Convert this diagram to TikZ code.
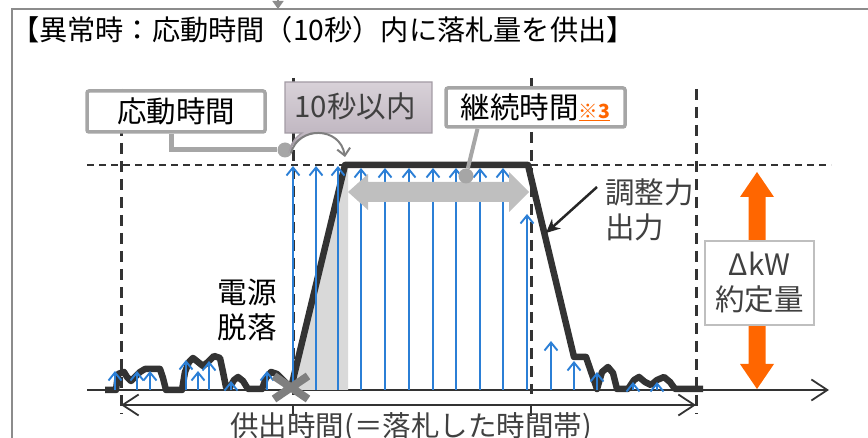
\documentclass[tikz,border=0pt]{standalone}
\usepackage{fontspec}
\setmainfont{Noto Sans CJK JP}
\usetikzlibrary{arrows.meta}
\definecolor{dk}{HTML}{333333}
\definecolor{bl}{HTML}{2B7FD6}
\definecolor{org}{HTML}{FF6600}
\definecolor{gbord}{HTML}{A6A6A6}
\definecolor{lgray}{HTML}{BFBFBF}
\definecolor{tri}{HTML}{D9D9D9}
\definecolor{txtg}{HTML}{404040}
\definecolor{framec}{HTML}{8C8C8C}
\definecolor{xmark}{HTML}{7F7F7F}
\definecolor{caltop}{HTML}{D8D1D8}
\definecolor{calbot}{HTML}{BAB0BB}
\definecolor{calbord}{HTML}{A39BA4}
\tikzset{
  vdash/.style={draw=dk, line width=3pt, dash pattern=on 11pt off 7pt},
  hdash/.style={draw=dk, line width=1.4pt, dash pattern=on 7pt off 5pt},
  barrow/.style={draw=bl, line width=1.9pt, -{Straight Barb[length=8pt,width=13pt]}},
  outline/.style={draw=dk, line width=6.5pt, line join=round},
  gbox/.style={draw=gbord, line width=3.5pt, fill=white, rounded corners=2pt, inner sep=0pt},
  conn/.style={draw=gbord, line width=5pt},
  gdot/.style={circle, fill=gbord, inner sep=0pt, minimum size=15pt},
  axisline/.style={draw=dk, line width=1.8pt},
  bigtip/.style={-{Straight Barb[length=16pt,width=21pt]}},
  lbl/.style={font=\fontsize{29.5}{35}\selectfont, inner sep=0pt},
}
\begin{document}
\begin{tikzpicture}[x=1pt,y=-1pt]
\useasboundingbox (0,0) rectangle (868,438);
% frame
\draw[framec, line width=2.5pt] (12,440) -- (12,9) -- (870,9);
\coordinate (topin) at (278,-4);
\coordinate (topend) at (278,9);
\draw[framec, line width=1.5pt, -{Triangle[length=8pt,width=11pt]}] (topin) -- (topend);
\node[lbl, font=\fontsize{28.2}{34}\selectfont, anchor=west] (title) at (11,30) {【異常時：応動時間（10秒）内に落札量を供出】};
% dashed lines
\draw[hdash] (87,165) -- (831,165);
\draw[vdash] (121,89) -- (121,414);
\draw[vdash] (293,78) -- (293,401);
\draw[vdash] (531,78) -- (531,394);
\draw[vdash] (696,89) -- (696,414);
\draw[dk, line width=1.5pt] (293,405) -- (293,416);
\draw[dk, line width=1.5pt] (531,405) -- (531,416);
% axis and supply-time arrow
\coordinate (ax0) at (87,390);
\coordinate (ax1) at (829,390);
\draw[axisline, bigtip] (ax0) -- (ax1);
\coordinate (sp0) at (121,405);
\coordinate (sp1) at (696,405);
\draw[axisline, {Straight Barb[length=16pt,width=21pt]}-{Straight Barb[length=16pt,width=21pt]}] (sp0) -- (sp1);
% light gray ramp area
\fill[tri] (293,390) -- (345,165) -- (348,165) -- (348,390) -- cycle;
% output line
\draw[outline] (105,390) -- (116,390) -- (118,374) -- (124,372) -- (127,377) -- (131,381) -- (135,377) -- (140,372) -- (145,369) -- (160,369) -- (163,378) -- (166,390) -- (182,390) -- (185,372) -- (189,362) -- (193,358) -- (198,362) -- (203,366) -- (208,362) -- (214,356) -- (220,358) -- (223,372) -- (226,387) -- (230,387) -- (234,380) -- (238,377) -- (243,381) -- (248,389) -- (262,389) -- (266,378) -- (271,372) -- (277,374) -- (283,380) -- (289,386);
\draw[outline] (291,388) -- (345,165) -- (528,165) -- (574,357) -- (586,357) -- (597,389) -- (602,372) -- (608,367) -- (613,373) -- (617,389) -- (628,389) -- (634,380) -- (639,377) -- (645,382) -- (651,385) -- (657,380) -- (664,377) -- (670,382) -- (675,389) -- (703,389);
% blue arrows
\foreach \x in {293,316,338} \draw[barrow] (\x,390) -- (\x,166);
\foreach \x in {361,385,409,433,456,480,503} \draw[barrow] (\x,390) -- (\x,168);
\foreach \x/\t in {527/214,551/341,574/361,597/372,633/382,657/382,115/371,137/371,150/371,186/360,198/371,209/361,231/381,267/371}
  \draw[barrow] (\x,390) -- (\x,\t);
% X mark
\draw[xmark, line width=8pt] (274,376) -- (308,399) (274,399) -- (308,376);
% gray block double arrow
\fill[lgray] (348,192) -- (368,174) -- (368,182) -- (509,182) -- (509,172) -- (529,192) -- (509,212) -- (509,202) -- (368,202) -- (368,210) -- cycle;
% 応動時間 box and connector
\node[gbox, lbl, minimum width=178pt, minimum height=41pt] (resp) at (176,111.5) {応動時間};
\node[gdot] (d1) at (285,150) {};
\draw[conn] ([xshift=-5pt]resp.south) |- (d1);
% callout
\shade[top color=caltop, bottom color=calbot, draw=calbord, line width=1.2pt]
  (285,82) -- (432,82) -- (432,133) -- (311,133) .. controls (300,138) and (293,142) .. (290,149) .. controls (292,141) and (297,136) .. (302,133) -- (285,133) -- cycle;
\node[lbl, text=txtg] (ten) at (355,106) {10秒以内};
\coordinate (ca) at (291,153);
\coordinate (cb) at (345,157);
\draw[draw=xmark, line width=2pt, -{Straight Barb[length=7pt,width=13pt]}] (ca) .. controls (298,126) and (340,126) .. (cb);
% 継続時間 box and connector
\node[gbox, lbl, minimum width=179pt, minimum height=39pt] (cont) at (535.5,107.5) {継続時間\textcolor{org}{\fontsize{19.5}{22}\selectfont\bfseries\underline{※3}}};
\node[gdot] (d2) at (466,176) {};
\draw[conn, line width=4pt] ([xshift=-58pt]cont.south) -- (d2);
% orange arrow
\fill[org] (757,172) -- (774,197) -- (765.5,197) -- (765.5,364) -- (774,364) -- (757,389) -- (740,364) -- (748.5,364) -- (748.5,197) -- (740,197) -- cycle;
\node[lbl, draw=lgray, line width=1.5pt, fill=white, text=txtg, align=center, minimum width=109pt, minimum height=84pt] (dkw) at (759.5,283) {ΔkW\\約定量};
% labels
\node[lbl, align=center, text=black] (trip) at (247,310) {電源\\脱落};
\node[lbl, align=left, text=txtg, anchor=west] (adj) at (605,210) {調整力\\出力};
\coordinate (aa) at (597,187);
\coordinate (ab) at (546,233);
\draw[draw=black!85, line width=2.5pt, -{Stealth[length=14pt,width=13pt]}] (aa) -- (ab);
\node[lbl, font=\fontsize{28.5}{34}\selectfont, text=txtg] (supply) at (411,427) {供出時間(＝落札した時間帯)};
\end{tikzpicture}
\end{document}
